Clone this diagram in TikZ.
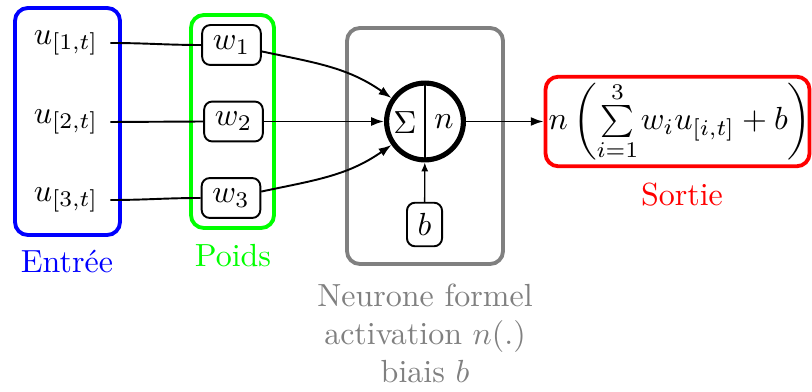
\documentclass[tikz,border=0pt]{standalone}
\usepackage{fontspec}
\usetikzlibrary{arrows.meta}
\begin{document}
\begin{tikzpicture}[x=0.3125pt,y=0.3125pt,
  wbox/.style={draw,semithick,rounded corners=2.5pt},
  grp/.style={very thick,rounded corners=4pt},
  conn/.style={semithick},
  arr/.style={semithick,-{Latex[length=4pt,width=2.8pt]}},
  barr/.style={thin,-{Latex[length=2.8pt,width=2.2pt]}},
  ulab/.style={inner xsep=3.6pt},
]
\useasboundingbox (0,0) rectangle (812,-392);
% group boxes
\draw[grp,blue] (15,-8) rectangle (120,-235);
\draw[grp,green] (191,-15) rectangle (274,-228);
\draw[grp,gray] (347,-28) rectangle (503,-264);
% inputs
\node[ulab] (u1) at (66,-43) {$u_{[1,t]}$};
\node[ulab] (u2) at (66,-122) {$u_{[2,t]}$};
\node[ulab] (u3) at (66,-200) {$u_{[3,t]}$};
% weights
\node[wbox] (w1) at (231.5,-45) {$w_1$};
\node[wbox] (w2) at (233.5,-121.5) {$w_2$};
\node[wbox] (w3) at (231,-198) {$w_3$};
% neuron
\node[draw,circle,ultra thick,minimum size=24pt,inner sep=0pt] (s) at (425,-121.5) {};
\draw[thin] (s.north) -- (s.south);
\node (sig) at (405,-123) {$\Sigma$};
\node (act) at (444,-122) {$n$};
\node[wbox] (b) at (424.5,-224.5) {$b$};
% output
\node[draw=red,grp,minimum width=82.5pt,minimum height=28pt,inner sep=0pt] (out) at (677.5,-121.5) {};
\node (f) at (680,-121.5)
  {$n\left(\sum\limits_{i=1}^{3}\mkern-1.5mu w_i u_{[i,t]} + b\right)$};
% connectors
\draw[conn] (u1.east) to[out=0,in=180] (w1.west);
\draw[conn] (u2.east) -- (w2.west);
\draw[conn] (u3.east) to[out=0,in=180] (w3.west);
\draw[arr] (w1) to[out=-12,in=145] (s);
\draw[arr] (w2) -- (s);
\draw[arr] (w3) to[out=12,in=-145] (s);
\draw[barr] (b) -- (s);
\draw[arr] (s) -- (out);
% labels
\node[blue,anchor=base] (lin) at (67,-272.7) {Entrée};
\node[green,anchor=base] (lw) at (233,-266.7) {Poids};
\node[red,anchor=base] (lout) at (682,-206) {Sortie};
\node[gray,anchor=base] (ln1) at (425,-307) {Neurone formel};
\node[gray,anchor=base] (ln2) at (425,-344.5) {activation $n(.)$};
\node[gray,anchor=base] (ln3) at (425,-382) {biais $b$};
\end{tikzpicture}
\end{document}
